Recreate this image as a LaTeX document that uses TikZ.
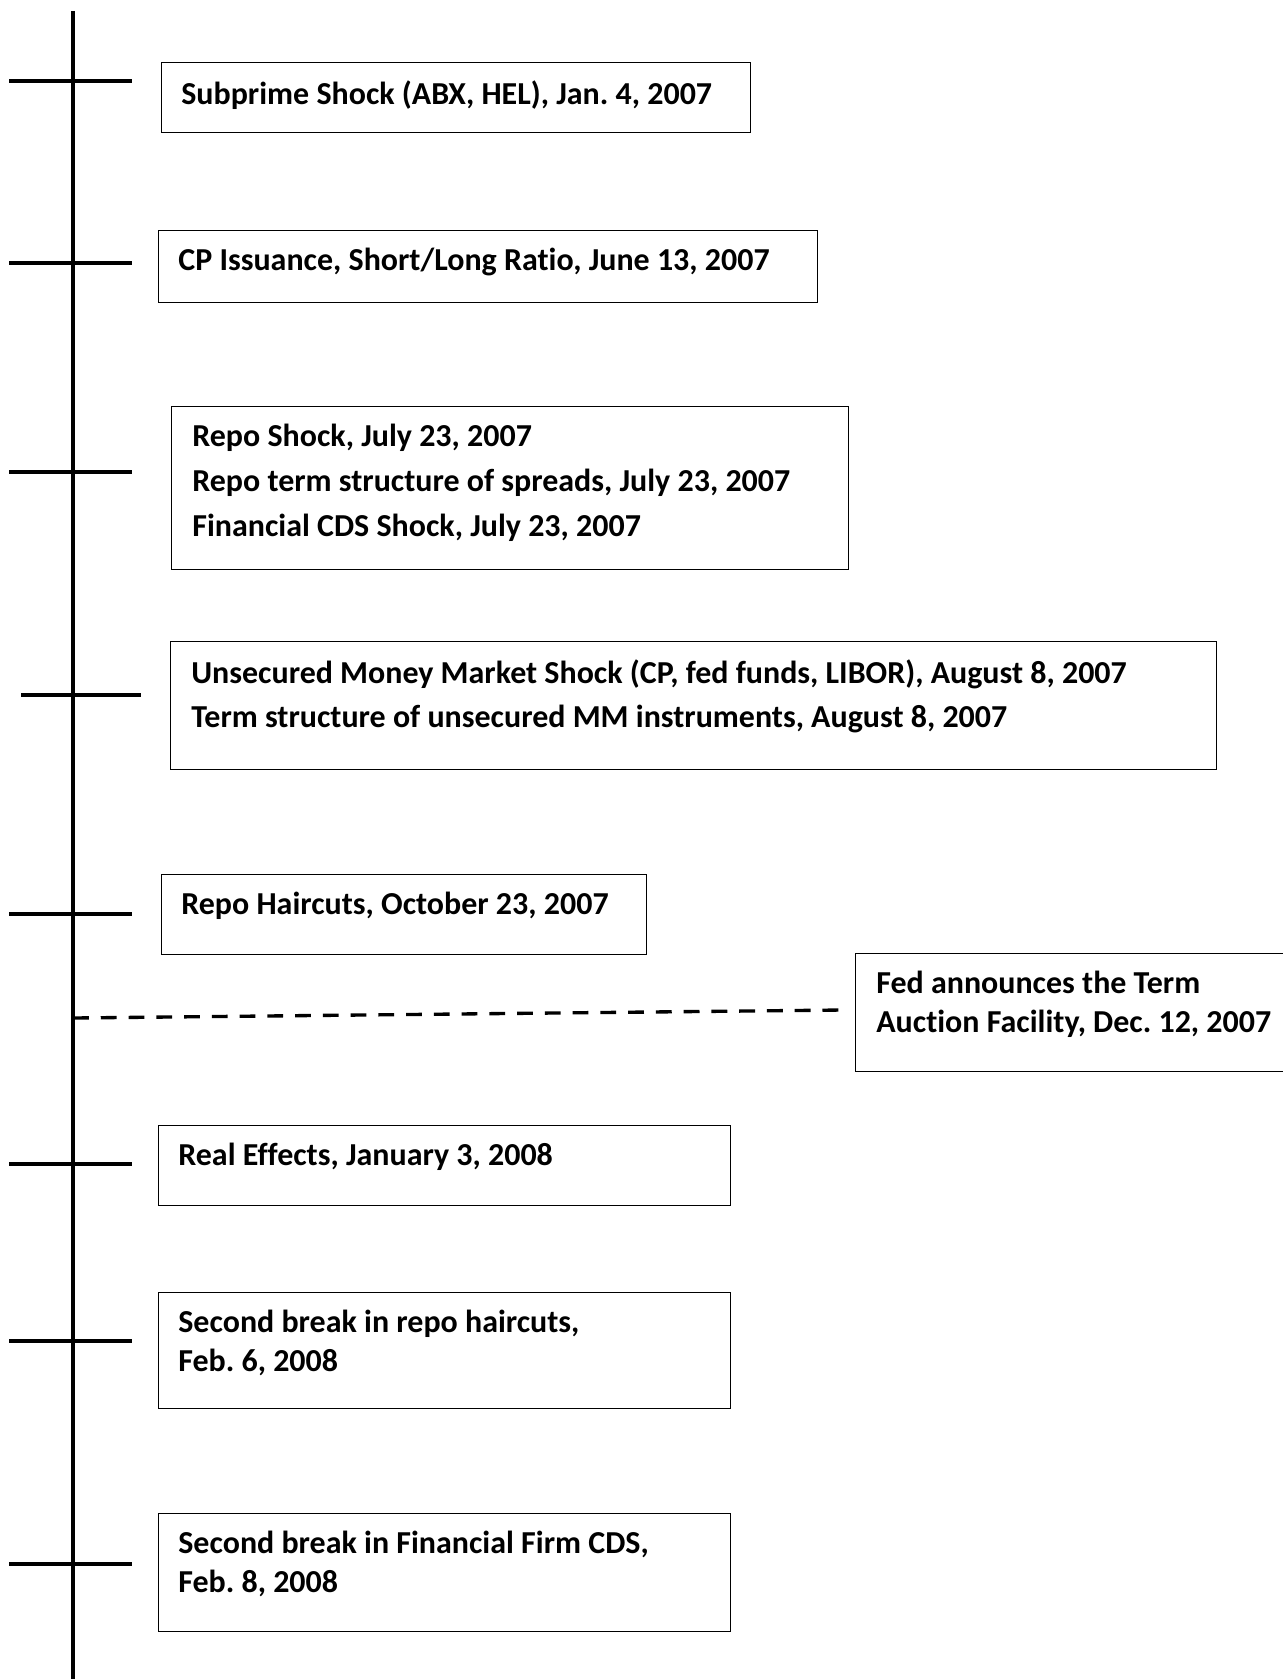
\documentclass[tikz,border=0pt]{standalone}
\usepackage{fontspec}
\setmainfont{Carlito}[Ligatures=NoCommon]
\usepackage{tikz}
\usetikzlibrary{positioning}
\frenchspacing

\tikzset{
    evbox/.style={draw, line width=0.6pt, anchor=north west, inner sep=0pt},
    evtext/.style={anchor=north west, align=left, inner sep=0pt,
        font=\bfseries\fontsize{18.2}{22}\selectfont},
    tick/.style={line width=2pt},
}

\begin{document}
\begin{tikzpicture}[x=0.02cm, y=-0.02cm]
    \useasboundingbox (0,0) rectangle (1283,1679);

    % Trục thời gian
    \draw[tick] (73,11) -- (73,1685);

    % Các vạch mốc
    \foreach \ya in {81, 263, 472, 914, 1164, 1341, 1564}
        \draw[tick] (9,\ya) -- (132,\ya);
    \draw[tick] (21,695) -- (141,695);

    % Các sự kiện
    \node[evbox, minimum width=11.78cm, minimum height=1.40cm] (b1) at (161,62) {};
    \node[evtext, below right=0.36cm and 0.40cm of b1.north west] (t1)
        {Subprime Shock (ABX, HEL), Jan. 4, 2007};

    \node[evbox, minimum width=13.18cm, minimum height=1.44cm] (b2) at (158,230) {};
    \node[evtext, below right=0.36cm and 0.40cm of b2.north west] (t2)
        {CP Issuance, Short/Long Ratio, June 13, 2007};

    \node[evbox, minimum width=13.54cm, minimum height=3.26cm] (b3) at (171,406) {};
    \node[evtext, below right=0.36cm and 0.42cm of b3.north west] (t3)
        {Repo Shock, July 23, 2007\\[3.5pt]
         Repo term structure of spreads, July 23, 2007\\[3.5pt]
         Financial CDS Shock, July 23, 2007};

    \node[evbox, minimum width=20.92cm, minimum height=2.56cm] (b4) at (170,641) {};
    \node[evtext, below right=0.36cm and 0.42cm of b4.north west] (t4)
        {Unsecured Money Market Shock (CP, fed funds, LIBOR), August 8, 2007\\[3.5pt]
         Term structure of unsecured MM instruments, August 8, 2007};

    \node[evbox, minimum width=9.70cm, minimum height=1.60cm] (b5) at (161,874) {};
    \node[evtext, below right=0.36cm and 0.40cm of b5.north west] (t5)
        {Repo Haircuts, October 23, 2007};

    % Sự kiện của Fed (đường nét đứt)
    \node[evbox, minimum width=8.80cm, minimum height=2.36cm] (b6) at (855,953) {};
    \node[evtext, below right=0.36cm and 0.42cm of b6.north west] (t6)
        {Fed announces the Term\\
         Auction Facility, Dec. 12, 2007};
    \coordinate (fedA) at (73,1018);
    \coordinate (fedB) at (843,1010);
    \draw[line width=1.9pt, dash pattern=on 9pt off 6.8pt] (fedA) -- (fedB);

    \node[evbox, minimum width=11.44cm, minimum height=1.60cm] (b7) at (158,1125) {};
    \node[evtext, below right=0.36cm and 0.40cm of b7.north west] (t7)
        {Real Effects, January 3, 2008};

    \node[evbox, minimum width=11.44cm, minimum height=2.32cm] (b8) at (158,1292) {};
    \node[evtext, below right=0.36cm and 0.40cm of b8.north west] (t8)
        {Second break in repo haircuts,\\
         Feb. 6, 2008};

    \node[evbox, minimum width=11.44cm, minimum height=2.36cm] (b9) at (158,1513) {};
    \node[evtext, below right=0.36cm and 0.40cm of b9.north west] (t9)
        {Second break in Financial Firm CDS,\\
         Feb. 8, 2008};
\end{tikzpicture}
\end{document}
